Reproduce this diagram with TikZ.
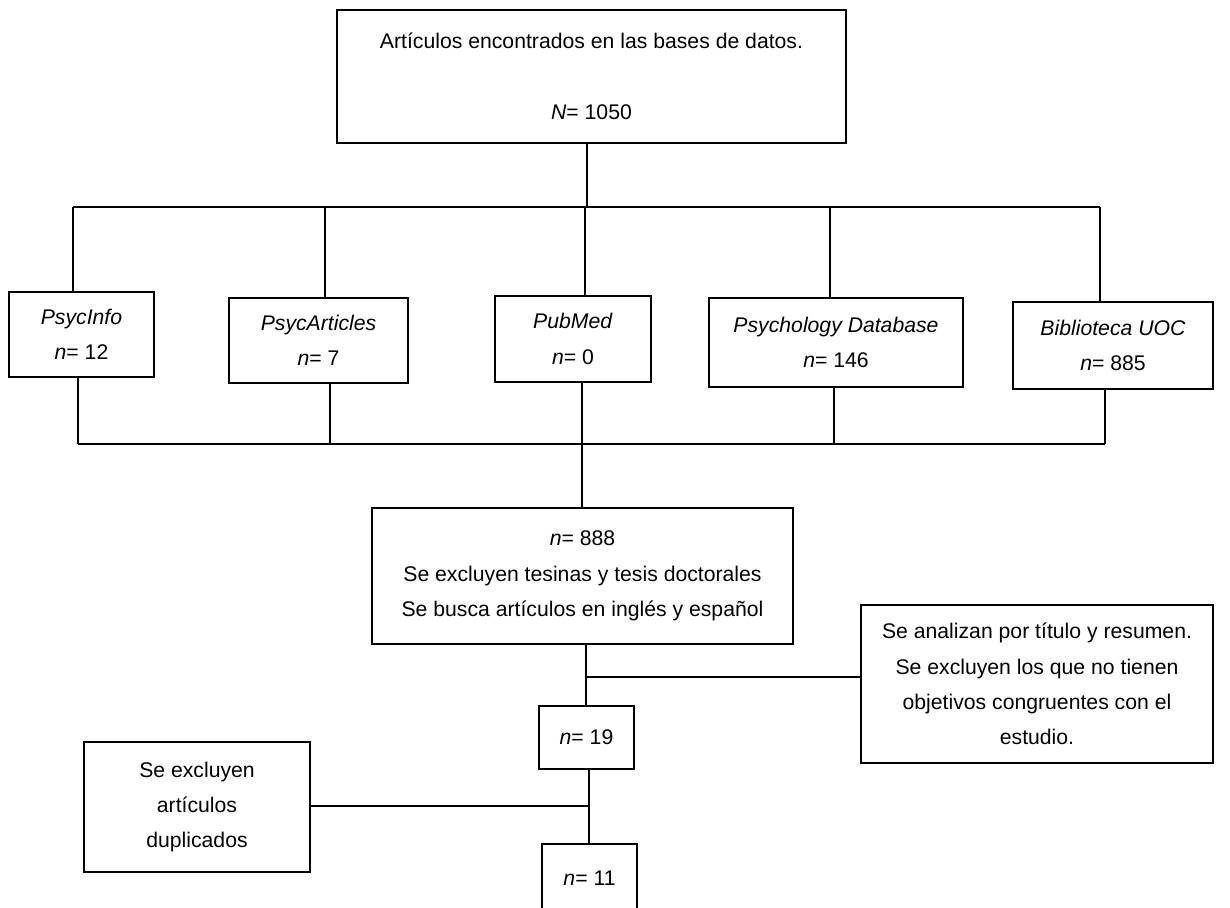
\documentclass[tikz,border=0pt]{standalone}
\usepackage{fontspec}
\setmainfont{Liberation Sans}
\usepackage{tikz}
\newlength\pxlen
\setlength\pxlen{0.5pt}

\begin{document}
\begin{tikzpicture}[x=1\pxlen,y=-1\pxlen,
  caja/.style n args={2}{draw,line width=1pt,minimum width=#1\pxlen,minimum height=#2\pxlen,
    inner sep=0pt,align=center,font=\fontsize{10.6pt}{17.7pt}\selectfont},
  link/.style={line width=0.6pt}]
\useasboundingbox (0,0) rectangle (1230,908);
% bases de datos
\node[caja={509}{133}] (total) at (591.5,76.5) {Artículos encontrados en las bases de datos.\\[\baselineskip]\textit{N}= 1050};
\node[caja={145}{85}] (psycinfo) at (81.5,334.5) {\textit{PsycInfo}\\\textit{n}= 12};
\node[caja={179}{85}] (psycarticles) at (318.5,340.5) {\textit{PsycArticles}\\\textit{n}= 7};
\node[caja={156}{86}] (pubmed) at (573,339) {\textit{PubMed}\\\textit{n}= 0};
\node[caja={254}{89}] (psydb) at (836,342.5) {\textit{Psychology Database}\\\textit{n}= 146};
\node[caja={200}{87}] (biblio) at (1113,345.5) {\textit{Biblioteca UOC}\\\textit{n}= 885};
% cribado
\node[caja={421}{136}] (idioma) at (582.5,576) {\textit{n}= 888\\Se excluyen tesinas y tesis doctorales\\Se busca artículos en inglés y español};
\node[caja={352}{158}] (titulo) at (1037,684) {Se analizan por título y resumen.\\Se excluyen los que no tienen\\objetivos congruentes con el\\estudio.};
\node[caja={95}{63}] (diecinueve) at (586.5,737.5) {\textit{n}= 19};
\node[caja={226}{130}] (duplicados) at (197,807) {Se excluyen\\artículos\\duplicados};
\node[caja={95}{68}] (once) at (589.5,878) {\textit{n}= 11};
% lineas
\coordinate (busA) at (73,207);
\coordinate (busB) at (1100,207);
\coordinate (busC) at (78,444);
\coordinate (busD) at (1105,444);
\draw[link] (busA) -- (busB);
\draw[link] (busC) -- (busD);
\draw[link] (587,0 |- total.south) -- (587,0 |- busA);
\foreach \n/\x in %
{psycinfo/73,psycarticles/325,pubmed/585,psydb/830,biblio/1100} {
   \draw[link] (\x,0 |- busA) -- (\x,0 |- \n.north);
}
\foreach \n/\x in %
{psycinfo/78,psycarticles/330,pubmed/582,psydb/834,biblio/1105} {
   \draw[link] (\x,0 |- \n.south) -- (\x,0 |- busC);
}
\draw[link] (582,0 |- busC) -- (582,0 |- idioma.north);
\draw[link] (586,0 |- idioma.south) -- (586,0 |- diecinueve.north);
\coordinate (ramaA) at (586,677);
\draw[link] (ramaA) -- (titulo.west |- ramaA);
\draw[link] (589,0 |- diecinueve.south) -- (589,0 |- once.north);
\coordinate (ramaB) at (589,806);
\draw[link] (ramaB) -- (duplicados.east |- ramaB);
\end{tikzpicture}
\end{document}
